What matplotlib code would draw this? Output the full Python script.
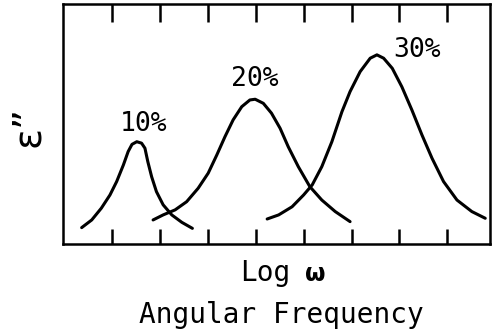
import matplotlib.pyplot as plt

# curve points (x in tick units of log w, y arbitrary)
x10 = [0.37, 0.58, 0.78, 0.96, 1.10, 1.24, 1.34, 1.42, 1.52, 1.62, 1.69, 1.75, 1.83, 1.93,
       2.07, 2.25, 2.46, 2.68]
y10 = [0.68, 1.00, 1.49, 2.04, 2.60, 3.29, 3.85, 4.15, 4.26, 4.20, 3.99, 3.43, 2.80, 2.18,
       1.63, 1.21, 0.90, 0.65]

x20 = [1.86, 2.07, 2.32, 2.56, 2.80, 3.01, 3.19, 3.36, 3.53, 3.71, 3.88, 3.99, 4.16, 4.33,
       4.51, 4.68, 4.89, 5.13, 5.38, 5.66, 5.97]
y20 = [1.00, 1.21, 1.42, 1.76, 2.32, 2.95, 3.71, 4.47, 5.17, 5.72, 6.00, 6.03, 5.86, 5.45,
       4.82, 4.05, 3.22, 2.39, 1.83, 1.35, 0.93]

x30 = [4.24, 4.48, 4.76, 5.00, 5.18, 5.38, 5.59, 5.80, 5.97, 6.18, 6.39, 6.53, 6.67, 6.85,
       7.05, 7.26, 7.47, 7.68, 7.92, 8.20, 8.51, 8.79]
y30 = [1.04, 1.21, 1.55, 2.04, 2.46, 3.22, 4.26, 5.51, 6.35, 7.18, 7.74, 7.88, 7.74, 7.32,
       6.55, 5.58, 4.54, 3.57, 2.60, 1.83, 1.35, 1.07]

labels = ["10%", "20%", "30%"]
label_pos = [(1.67, 5.0), (3.99, 6.88), (7.37, 8.08)]
tick_pos = [1, 2, 3, 4, 5, 6, 7, 8]

mono = "DejaVu Sans Mono"

fig = plt.figure(figsize=(4.92, 3.31), dpi=100)
ax = fig.add_axes([0.128, 0.263, 0.868, 0.725])

for xs, ys in [(x10, y10), (x20, y20), (x30, y30)]:
    ax.plot(xs, ys, color="black", lw=2.2, solid_joinstyle="round", solid_capstyle="round")

for lab, (lx, ly) in zip(labels, label_pos):
    ax.text(lx, ly, lab, family=mono, fontsize=19, ha="center", va="center")

ax.set_xlim(-0.02, 8.89)
ax.set_ylim(0, 10)
ax.set_xticks(tick_pos)
ax.set_xticklabels([])
ax.set_yticks([])
ax.tick_params(axis="x", direction="in", top=True, bottom=True, width=1.8)
for t in ax.xaxis.get_major_ticks():
    t.tick1line.set_markersize(11)
    t.tick2line.set_markersize(13)
for s in ax.spines.values():
    s.set_linewidth(1.8)

# y label, rotated like the original
fig.text(28 / 492, 1 - 126 / 331, "ε”", fontsize=28, rotation=90, ha="center", va="center")

fig.text(240 / 492, 1 - 281 / 331, "Log", family=mono, fontsize=20, ha="left", va="baseline")
fig.text(315 / 492, 1 - 281 / 331, "ω", family="DejaVu Sans", fontweight="bold", fontsize=17,
         ha="center", va="baseline")
fig.text(281 / 492, 1 - 323 / 331, "Angular Frequency", family=mono, fontsize=20,
         ha="center", va="baseline")

fig.savefig("out.png", dpi=100)
